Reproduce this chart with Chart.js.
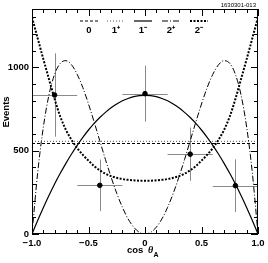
<!DOCTYPE html>
<html>
<head>
<meta charset="utf-8">
<script src="https://cdn.jsdelivr.net/npm/chart.js@4"></script>
<style>
  html, body { margin: 0; padding: 0; background: #fff; }
  #wrap { width: 268px; height: 263px; }
</style>
</head>
<body>
<div id="wrap"><canvas id="chart" width="268" height="263"></canvas></div>
<script>
// measured bins (cos theta_A)
const cosBins = [-0.8, -0.4, 0, 0.4, 0.8];
const binHalfWidth = [0.2, 0.2, 0.2, 0.2, 0.2];
const events = [834, 292, 842, 479, 290];
const eventErr = [250, 155, 168, 160, 158];

// spin hypotheses
const flatX = [-1, 1];
const spin0 = [543, 543];
const spin1Plus = [556, 556];

const curveX = [-1, -0.95, -0.9, -0.85, -0.8, -0.75, -0.7, -0.65, -0.6, -0.55, -0.5,
  -0.45, -0.4, -0.35, -0.3, -0.25, -0.2, -0.15, -0.1, -0.05, 0,
  0.05, 0.1, 0.15, 0.2, 0.25, 0.3, 0.35, 0.4, 0.45, 0.5,
  0.55, 0.6, 0.65, 0.7, 0.75, 0.8, 0.85, 0.9, 0.95, 1];
const spin1Minus = [0, 81, 158, 231, 300, 364, 424, 480, 532, 580, 624,
  664, 699, 730, 757, 780, 799, 813, 824, 830, 832,
  830, 824, 813, 799, 780, 757, 730, 699, 664, 624,
  580, 532, 480, 424, 364, 300, 231, 158, 81, 0];
const spin2Plus = [0, 366, 640, 834, 958, 1024, 1040, 1015, 958, 878, 780,
  672, 559, 447, 341, 244, 160, 91, 41, 10, 0,
  10, 41, 91, 160, 244, 341, 447, 559, 672, 780,
  878, 958, 1015, 1040, 1024, 958, 834, 640, 366, 0];
const spin2Minus = [1300, 1175, 1050, 930, 810, 705, 625, 565, 515, 475, 440,
  408, 382, 362, 347, 337, 330, 325, 322, 320, 320,
  320, 322, 325, 330, 337, 347, 362, 382, 408, 440,
  475, 515, 565, 625, 705, 810, 930, 1050, 1175, 1300];

// axis ticks
const xMajor = [-1, -0.5, 0, 0.5, 1];
const xMajorLabels = ['\u22121.0', '\u22120.5', '0', '0.5', '1.0'];
const xMinor = [-0.9, -0.8, -0.7, -0.6, -0.4, -0.3, -0.2, -0.1, 0.1, 0.2, 0.3, 0.4, 0.6, 0.7, 0.8, 0.9];
const yMajor = [0, 500, 1000];
const yMajorLabels = ['0', '500', '1000'];
const yMinor = [100, 200, 300, 400, 600, 700, 800, 900, 1100, 1200, 1300];

// legend entries
const legendLabels = ['0', '1\u207A', '1\u207B', '2\u207A', '2\u207B'];

const FONT = 'bold 9.5px "Liberation Sans", Arial, sans-serif';

const styles = [
  {dash: [3, 2], width: 1, color: '#000'},
  {dash: [1, 2], width: 1, color: '#555'},
  {dash: [], width: 1.2, color: '#000'},
  {dash: [6, 2, 1, 2], width: 1, color: '#000'},
  {dash: [2, 1.5], width: 2, color: '#000'}
];

function pts(xs, ys) {
  return xs.map((x, i) => ({x: x, y: ys[i]}));
}

function lineSet(label, xs, ys, st) {
  return {
    type: 'line',
    label: label,
    data: pts(xs, ys),
    borderColor: st.color,
    borderWidth: st.width,
    borderDash: st.dash,
    pointRadius: 0,
    fill: false,
    cubicInterpolationMode: 'monotone'
  };
}

//Рамка, засечки, подписи, легенда и ошибки
const decorPlugin = {
  id: 'decor',
  beforeDatasetsDraw(chart) {
    const ctx = chart.ctx;
    const xs = chart.scales.x, ys = chart.scales.y;
    ctx.save();
    ctx.strokeStyle = '#8a8a8a';
    ctx.lineWidth = 1;
    cosBins.forEach((c, i) => {
      const px = Math.round(xs.getPixelForValue(c)) + 0.5;
      const py = Math.round(ys.getPixelForValue(events[i])) + 0.5;
      ctx.beginPath();
      ctx.moveTo(xs.getPixelForValue(c - binHalfWidth[i]), py);
      ctx.lineTo(xs.getPixelForValue(c + binHalfWidth[i]), py);
      ctx.moveTo(px, ys.getPixelForValue(events[i] - eventErr[i]));
      ctx.lineTo(px, ys.getPixelForValue(events[i] + eventErr[i]));
      ctx.stroke();
    });
    ctx.restore();
  },
  afterDraw(chart) {
    const ctx = chart.ctx;
    const a = chart.chartArea;
    const xs = chart.scales.x, ys = chart.scales.y;
    ctx.save();
    ctx.strokeStyle = '#000';
    ctx.lineWidth = 1;
    ctx.strokeRect(a.left + 0.5, a.top + 0.5, a.right - a.left - 1, a.bottom - a.top - 1);

    ctx.beginPath();
    const xt = (v, len) => {
      const p = Math.round(xs.getPixelForValue(v)) + 0.5;
      ctx.moveTo(p, a.bottom); ctx.lineTo(p, a.bottom - len);
      ctx.moveTo(p, a.top); ctx.lineTo(p, a.top + len);
    };
    const yt = (v, len) => {
      const p = Math.round(ys.getPixelForValue(v)) + 0.5;
      ctx.moveTo(a.left, p); ctx.lineTo(a.left + len, p);
      ctx.moveTo(a.right, p); ctx.lineTo(a.right - len, p);
    };
    xMajor.forEach(v => xt(v, 7));
    xMinor.forEach(v => xt(v, 4));
    yMajor.forEach(v => yt(v, 7));
    yMinor.forEach(v => yt(v, 4));
    ctx.stroke();

    ctx.fillStyle = '#000';
    ctx.font = FONT;
    ctx.textAlign = 'center';
    ctx.textBaseline = 'middle';
    xMajor.forEach((v, i) => {
      ctx.fillText(xMajorLabels[i], xs.getPixelForValue(v), a.bottom + 9);
    });
    ctx.textAlign = 'right';
    yMajor.forEach((v, i) => {
      ctx.fillText(yMajorLabels[i], a.left - 3, ys.getPixelForValue(v));
    });

    // axis titles
    ctx.textAlign = 'left';
    ctx.fillText('cos', 127, 250);
    ctx.font = 'italic bold 10px "Liberation Serif", serif';
    ctx.fillText('\u03B8', 148, 250);
    ctx.font = 'bold 7px "Liberation Sans", Arial, sans-serif';
    ctx.fillText('A', 153.5, 255);

    ctx.save();
    ctx.translate(6, 112);
    ctx.rotate(-Math.PI / 2);
    ctx.textAlign = 'center';
    ctx.font = FONT;
    ctx.fillText('Events', 0, 0);
    ctx.restore();

    ctx.font = '6px "Liberation Sans", Arial, sans-serif';
    ctx.textAlign = 'right';
    ctx.fillText('1630301-013', 256, 5);

    // legend
    const centers = [89, 116, 143, 171, 199];
    legendLabels.forEach((lab, i) => {
      const st = styles[i];
      ctx.strokeStyle = st.color;
      ctx.lineWidth = st.width;
      ctx.setLineDash(st.dash);
      ctx.beginPath();
      ctx.moveTo(centers[i] - 9, 21);
      ctx.lineTo(centers[i] + 9, 21);
      ctx.stroke();
      ctx.setLineDash([]);
      ctx.font = FONT;
      ctx.textAlign = 'center';
      ctx.fillStyle = '#000';
      ctx.fillText(lab, centers[i], 30);
    });
    ctx.restore();
  }
};

new Chart(document.getElementById('chart'), {
  type: 'scatter',
  data: {
    datasets: [
      {
        type: 'scatter',
        label: 'data',
        data: pts(cosBins, events),
        backgroundColor: '#000',
        borderColor: '#000',
        pointRadius: 2.3,
        pointHoverRadius: 2.3
      },
      lineSet('0', flatX, spin0, styles[0]),
      lineSet('1+', flatX, spin1Plus, styles[1]),
      lineSet('1-', curveX, spin1Minus, styles[2]),
      lineSet('2+', curveX, spin2Plus, styles[3]),
      lineSet('2-', curveX, spin2Minus, styles[4])
    ]
  },
  options: {
    responsive: false,
    animation: false,
    devicePixelRatio: 1,
    layout: {padding: {left: 32, right: 10, top: 9, bottom: 29}},
    plugins: {legend: {display: false}, tooltip: {enabled: false}},
    scales: {
      x: {type: 'linear', min: -1, max: 1, display: false},
      y: {type: 'linear', min: 0, max: 1350, display: false}
    }
  },
  plugins: [decorPlugin]
});
</script>
</body>
</html>
